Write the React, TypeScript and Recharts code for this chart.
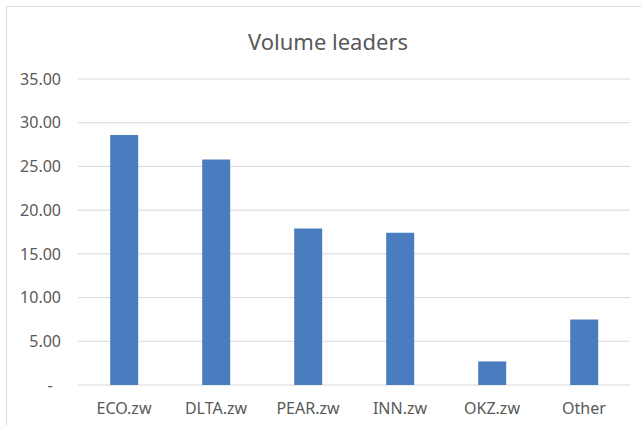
import React from 'react';
import { BarChart, Bar, XAxis, YAxis, CartesianGrid } from 'recharts';

const tickers = ['ECO.zw', 'DLTA.zw', 'PEAR.zw', 'INN.zw', 'OKZ.zw', 'Other'];
const volumes = [28.6, 25.8, 17.9, 17.4, 2.7, 7.5];
const yTicks = [0, 5, 10, 15, 20, 25, 30, 35];

const data = tickers.map((name, i) => ({ name, volume: volumes[i] }));

const textColor = '#595959';
const gridColor = '#d9d9d9';
const fontFamily = '"Noto Sans", sans-serif';

export default function App() {
	return (
		<div
			style={{
				position: 'absolute',
				left: 0,
				top: 0,
				width: 641,
				height: 425,
				overflow: 'hidden',
				background: '#fff',
				fontFamily,
			}}
		>
			{/* chart area frame, cut off by the picture edges */}
			<div
				style={{
					position: 'absolute',
					left: 6,
					top: 6,
					width: 700,
					height: 500,
					border: `1px solid ${gridColor}`,
				}}
			/>
			<div
				style={{
					position: 'absolute',
					left: 228,
					top: 30,
					width: 200,
					textAlign: 'center',
					fontSize: 22,
					lineHeight: '22px',
					color: textColor,
				}}
			>
				Volume leaders
			</div>
			<div style={{ position: 'absolute', left: 0, top: 0 }}>
				<BarChart
					width={641}
					height={425}
					data={data}
					margin={{ top: 79, right: 11, left: 0, bottom: 0 }}
					barCategoryGap="35%"
				>
					<CartesianGrid vertical={false} stroke={gridColor} />
					<XAxis
						dataKey="name"
						height={40}
						axisLine={false}
						tickLine={false}
						tickSize={0}
						tickMargin={18}
						interval={0}
						tick={{ fontSize: 16, fill: textColor, fontFamily }}
					/>
					<YAxis
						width={78}
						domain={[0, 35]}
						ticks={yTicks}
						axisLine={false}
						tickLine={false}
						tickSize={0}
						tickMargin={17}
						tick={{ fontSize: 16, fill: textColor, fontFamily }}
						tickFormatter={(v: number) => (v === 0 ? '-\u00A0\u00A0' : v.toFixed(2))}
					/>
					<Bar dataKey="volume" fill="#4a7dc0" isAnimationActive={false} />
				</BarChart>
			</div>
		</div>
	);
}
